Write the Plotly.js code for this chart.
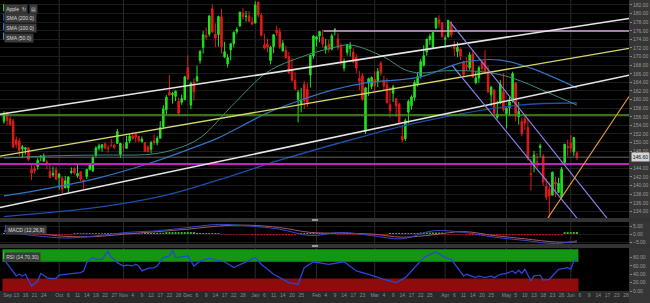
<!DOCTYPE html>
<html><head><meta charset="utf-8">
<script src="https://cdn.plot.ly/plotly-3.0.1.min.js"></script>
<style>html,body{margin:0;padding:0;background:#2a2a2a;overflow:hidden}#chart{width:650px;height:303px}</style>
</head><body><div id="chart"></div>
<script>
// ---------- DATA ----------
const startDate = '2021-09-07';
const holidays = ['2021-11-25','2021-12-24','2022-01-17','2022-02-21','2022-04-15','2022-05-30','2022-06-20'];
const futureDays = 17;

const opens = [
154.97,156.98,155.49,155.00,150.63,150.35,148.56,148.44,148.82,143.80,143.93,144.45,146.65,145.66,145.47,143.25,142.47,143.66,
141.90,141.76,139.49,139.47,143.06,144.03,142.27,143.23,141.24,142.11,143.77,143.45,147.01,148.70,148.81,149.69,148.68,149.33,149.36,149.82,147.22,
148.99,148.66,150.39,151.58,151.89,151.41,150.20,150.02,148.96,148.43,150.37,149.94,151.00,153.71,157.65,161.68,161.12,160.75,159.57,159.37,159.99,
167.48,158.74,164.02,164.29,169.08,172.13,174.91,175.21,181.12,175.25,175.11,179.28,169.93,168.28,171.56,173.04,175.85,177.09,180.16,179.33,179.47,178.09,
177.83,182.63,179.61,172.70,172.89,169.08,172.32,176.12,175.78,171.34,171.51,170.00,166.98,164.42,160.02,158.98,163.50,162.45,165.71,170.16,
174.01,174.75,174.48,171.68,172.86,171.73,176.05,174.14,172.33,167.37,170.97,171.85,171.03,169.82,164.98,165.54,152.58,163.84,163.06,
164.70,164.39,168.47,164.49,163.36,158.82,161.48,160.20,158.93,151.45,150.90,157.05,158.61,160.51,163.51,165.51,167.99,171.06,173.88,172.17,176.69,178.55,177.84,
174.03,174.57,177.50,172.36,171.16,171.78,168.71,168.02,167.39,170.62,163.92,165.02,168.76,168.91,166.46,161.12,162.25,155.91,159.25,161.84,
156.71,158.15,159.67,163.85,156.01,154.93,155.52,153.50,142.77,144.59,145.55,148.86,146.85,139.88,139.09,137.79,140.81,138.43,137.39,145.39,149.07,
149.90,147.83,147.60];
const highs = [
157.26,157.04,156.11,155.48,151.42,151.07,149.44,148.97,148.82,144.84,144.60,146.43,147.08,147.47,145.96,144.75,144.45,144.38,
142.92,142.21,142.24,142.15,144.22,144.18,144.81,143.25,141.40,143.88,144.90,146.84,149.17,149.75,149.64,150.18,149.37,150.84,149.73,153.17,149.94,
149.70,151.57,151.97,152.43,152.20,151.57,151.43,150.13,149.43,150.40,151.88,151.49,155.00,158.67,161.02,165.70,161.80,162.14,160.45,161.19,165.52,
170.30,164.20,164.96,167.88,171.58,175.96,176.75,179.63,182.13,177.74,179.50,181.14,173.47,170.58,173.20,175.86,176.85,180.42,181.33,180.63,180.57,179.23,
182.88,182.94,180.17,175.30,174.14,172.50,175.18,177.18,176.62,173.78,172.54,171.08,169.68,166.33,162.30,162.76,164.39,163.84,170.35,175.00,
174.84,175.88,176.24,174.10,173.95,175.35,176.65,175.48,173.08,169.58,172.95,173.34,171.91,170.54,166.69,166.15,162.85,165.12,165.42,
166.60,167.36,168.91,165.55,165.02,162.88,163.41,160.39,159.28,154.12,155.57,160.00,161.00,164.48,166.35,169.42,172.64,174.14,175.28,175.73,179.01,179.61,178.03,
174.88,178.49,178.30,173.63,173.36,171.78,169.03,169.87,171.04,171.27,166.60,167.82,168.88,171.53,167.87,163.17,162.34,159.79,164.52,166.20,
158.23,160.71,166.48,164.08,159.44,155.83,156.74,155.45,146.20,148.10,147.52,149.77,147.36,141.66,140.70,143.26,141.97,141.79,144.34,149.68,150.66,
151.74,151.27,148.00];
const lows = [
154.39,153.98,153.95,148.70,148.75,146.91,146.37,147.22,145.76,141.27,142.78,143.70,145.64,145.56,143.82,141.69,142.03,141.28,
139.11,138.27,139.36,138.37,142.72,142.56,141.81,141.04,139.20,141.51,143.51,143.16,146.55,148.12,147.87,148.64,147.62,149.01,148.49,149.72,146.41,
147.80,148.65,149.82,150.64,150.06,150.16,150.06,147.85,147.68,147.48,149.43,149.34,150.99,153.05,156.53,161.00,159.06,159.64,156.36,158.79,159.92,
164.53,157.80,159.72,164.28,168.34,170.70,173.92,174.69,175.53,172.21,172.31,170.75,169.69,167.46,169.12,172.15,175.27,177.07,178.53,178.14,178.09,177.26,
177.71,179.12,174.64,171.64,171.03,168.17,170.82,174.82,171.79,171.09,169.41,165.94,164.18,162.30,154.70,157.02,157.82,158.28,162.80,169.51,
172.31,173.33,172.12,170.68,170.95,171.43,174.90,171.55,168.04,166.56,170.25,170.05,168.47,166.19,162.15,159.75,152.00,160.87,162.43,
161.97,162.95,165.55,162.10,159.04,155.80,159.41,155.98,154.50,150.10,150.38,154.46,157.63,159.76,163.01,164.91,167.65,170.21,172.75,172.00,176.34,176.70,174.40,
171.94,174.44,174.42,170.13,169.85,169.20,165.50,166.64,166.77,165.04,163.57,163.91,166.10,165.91,161.50,158.46,156.72,155.38,158.93,157.25,
153.27,156.32,159.26,154.95,154.18,151.49,152.93,145.81,138.80,143.11,144.18,146.68,139.90,136.60,132.61,137.65,137.33,138.34,137.14,145.26,146.84,
147.68,146.86,145.90];
const closes = [
156.69,155.11,154.07,148.97,149.55,148.12,149.03,148.79,146.06,142.94,143.43,145.85,146.83,146.92,145.37,141.91,142.83,141.50,
142.65,139.14,141.11,142.00,143.29,142.90,142.81,141.51,140.91,143.76,144.84,146.55,148.76,149.26,149.48,148.69,148.64,149.32,148.85,152.57,149.80,
148.96,150.02,151.49,150.96,151.28,150.44,150.81,147.92,147.87,149.99,150.00,151.00,153.49,157.87,160.55,161.02,161.41,161.94,156.81,160.24,165.30,
164.77,163.76,161.84,165.32,171.18,175.08,174.56,179.45,175.74,174.33,179.30,172.26,171.14,169.75,172.99,175.64,176.28,180.33,179.29,179.38,178.20,177.57,
182.01,179.70,174.92,172.00,172.17,172.19,175.08,175.53,172.19,173.07,169.80,166.23,164.51,162.41,161.62,159.78,159.69,159.22,170.33,174.78,
174.61,175.84,172.90,172.39,171.66,174.83,176.28,172.12,168.64,168.88,172.79,172.55,168.88,167.30,164.32,160.07,162.74,164.85,165.12,
163.20,166.56,166.23,163.17,159.30,157.44,162.95,158.52,154.73,150.62,155.09,159.59,160.62,163.98,165.38,168.82,170.21,174.07,174.72,175.60,178.96,177.77,174.61,
174.31,178.44,175.06,171.83,172.14,170.09,165.75,167.66,170.40,165.29,165.07,167.40,167.23,166.42,161.79,162.88,156.80,156.57,163.64,157.65,
157.96,159.48,166.02,156.77,157.28,152.06,154.51,146.50,142.56,147.11,145.54,149.24,140.82,137.35,137.59,143.11,140.36,140.52,143.78,149.64,148.84,
148.71,151.21,146.60];

// moving averages (day index, price)
const sma200X = [0,31,53,70,90,113,136,168,187];
const sma200Y = [132.8,135.0,137.8,141.3,145.9,150.6,154.8,158.7,159.2];
const sma100X = [0,15,31,48,64,70,86,97,107,118,136,150,162,172,187];
const sma100Y = [137.6,139.4,141.8,145.3,149.4,151.1,156.9,159.9,162.2,163.9,165.3,168.7,169.2,167.3,162.7];
const sma50X = [0,15,31,48,56,64,75,86,97,107,113,124,131,136,144,157,166,177,187];
const sma50Y = [146.4,146.9,147.1,147.3,148.5,151.1,159.0,166.4,169.9,172.0,172.7,169.9,166.9,166.2,166.7,166.4,165.0,161.8,158.7];

// drawn lines (day index, price)
const whiteUpX = [-1.3,204], whiteUpY = [156.57,178.86];
const yellowX = [-1.3,204], yellowY = [146.87,171.90];
const whiteLowX = [-1.3,204], whiteLowY = [134.90,165.65];
const pinkX = [104.3,204], pinkY = [175.95,175.95];
const greenX = [-1.3,204], greenY = [156.4,156.4];
const magentaX = [-1.3,204], magentaY = [145.0,145.0];
const purpleAX = [145.6,196.8], purpleAY = [178.04,132.45];
const purpleBX = [146.2,187.0], purpleBY = [168.04,132.45];
const orangeX = [177.5,204], orangeY = [132.45,160.71];

// MACD (12,26,9)
const macdX =   [0,10,20,30,40,50,60,70,80,90,100,110,120,130,140,150,160,170,180,187];
const macdV =   [1.5,-1.0,-2.5,-1.2,1.0,2.0,4.0,6.0,5.0,3.0,-1.0,1.0,-1.0,-3.0,2.0,1.0,-2.0,-4.0,-6.0,-4.2];
const signalV = [2.0,0.5,-1.5,-1.6,0.0,1.5,3.0,5.0,5.5,4.0,1.0,0.5,0.0,-2.0,-0.5,1.5,-1.0,-3.0,-5.0,-5.0];
const histRuns = [[0,9,0.6],[10,22,-0.6],[23,45,0.5],[46,52,0.8],[53,62,1.2],[63,70,0.6],[71,80,-0.4],[81,95,-0.8],[96,108,0.6],[109,125,-0.5],[126,135,0.6],[136,143,0.9],[144,150,-0.4],[151,182,-0.8],[183,187,1.2]];

// RSI (14,70,30)
const rsiX = [0,2,4,5,6,7,9,11,12,14,15,17,18,20,22,23,25,26,27,29,30,32,34,35,36,37,39,40,42,43,44,45,47,49,50,52,54,55,56,58,60,62,63,64,
67,72,75,79,82,84,88,93,96,98,101,106,111,115,119,124,128,131,134,137,141,144,
146,148,150,151,154,155,157,159,160,162,164,166,167,168,169,170,172,173,175,176,178,179,181,184,185,186,187];
const rsiV = [76,56,36,40,36,40,12,24,42,32,30,30,38,40,42,42,44,48,68,80,76,76,96,80,76,68,60,62,60,64,60,48,54,56,60,80,84,98,80,82,84,60,66,72,
78,70,56,70,80,64,40,20,16,56,70,64,70,48,40,28,20,32,56,80,94,80,
76,56,36,40,32,36,32,36,32,40,42,48,42,50,42,52,24,36,38,26,28,36,52,56,52,72,76];

// ---------- BUILD ----------
const N = closes.length;
const MONTHS = ['Jan','Feb','Mar','Apr','May','Jun','Jul','Aug','Sep','Oct','Nov','Dec'];
function tradingDates(start, count, hol){
  const out = []; const d = new Date(start + 'T00:00:00Z');
  while(out.length < count){
    const dow = d.getUTCDay(); const iso = d.toISOString().slice(0,10);
    if(dow !== 0 && dow !== 6 && hol.indexOf(iso) < 0) out.push(new Date(d));
    d.setUTCDate(d.getUTCDate()+1);
  }
  return out;
}
const dates = tradingDates(startDate, N + futureDays, holidays);
const idx = dates.map((_, i) => i);
const candleX = idx.slice(0, N);

const tickVals = [], tickText = [], monthStarts = [];
let lastLab = -10;
for(let i = 0; i < dates.length; i++){
  const m = dates[i].getUTCMonth();
  const newMonth = i === 0 || m !== dates[i-1].getUTCMonth();
  if(newMonth){ tickVals.push(i === 0 ? 1.2 : i); tickText.push(MONTHS[m]); lastLab = i === 0 ? 1 : i; if(i>0) monthStarts.push(i); continue; }
  const nextNew = (i+1 < dates.length && dates[i+1].getUTCMonth() !== m) || (i+2 < dates.length && dates[i+2].getUTCMonth() !== m);
  if(i - lastLab >= 3 && !nextNew && i < dates.length - 1){ tickVals.push(i); tickText.push(String(dates[i].getUTCDate())); lastLab = i; }
}

const histX = [], histY = [], histC = [];
histRuns.forEach(r => { for(let i=r[0]; i<=r[1]; i++){ histX.push(i); histY.push(r[2]); histC.push(r[2] >= 0 ? '#22cc22' : '#d41414'); } });

const lastClose = closes[N-1];
// price ticks every 2; the one hidden under the last-price tag is left out
const priceTicks = [];
for(let v = 134; v <= 182; v += 2) if(Math.abs(v - lastClose) >= 1.2) priceTicks.push(v);

function line(x, y, color, w, yaxis){ return {type:'scatter', mode:'lines', x, y, line:{color, width:w}, yaxis: yaxis||'y', xaxis:'x', hoverinfo:'skip', showlegend:false}; }

const traces = [
  line(sma200X, sma200Y, '#1d4fa8', 1.3),
  line(sma100X, sma100Y, '#2f74c4', 1.2),
  line(sma50X, sma50Y, '#3a8c7c', 1.0),
  line(greenX, greenY, '#4c9a22', 1.6),
  line(magentaX, magentaY, '#c81ec8', 2),
  line([-1.3,204], [lastClose,lastClose], '#7a7a7a', 0.8),
  line(pinkX, pinkY, '#d8a6d8', 1.6),
  line(whiteLowX, whiteLowY, '#e6e6e6', 1.5),
  line(yellowX, yellowY, '#d6d66e', 1.3),
  line(whiteUpX, whiteUpY, '#e6e6e6', 1.5),
  line(purpleAX, purpleAY, '#8c84f0', 1.2),
  line(purpleBX, purpleBY, '#8c84f0', 1.2),
  line(orangeX, orangeY, '#e6963c', 1.2),
  {type:'candlestick', x:candleX, open:opens, high:highs, low:lows, close:closes, xaxis:'x', yaxis:'y',
   increasing:{line:{color:'#22e022', width:1}, fillcolor:'#22e022'},
   decreasing:{line:{color:'#e21a1a', width:1}, fillcolor:'#e21a1a'},
   whiskerwidth:0, hoverinfo:'skip', showlegend:false},
  {type:'bar', x:histX, y:histY, marker:{color:histC, line:{width:0}}, width:0.6, xaxis:'x', yaxis:'y2', hoverinfo:'skip', showlegend:false},
  {type:'scatter', mode:'lines', x:macdX, y:signalV, line:{color:'#a05a6a', width:1, shape:'spline'}, xaxis:'x', yaxis:'y2', hoverinfo:'skip', showlegend:false},
  {type:'scatter', mode:'lines', x:macdX, y:macdV, line:{color:'#3848c8', width:1, shape:'spline'}, xaxis:'x', yaxis:'y2', hoverinfo:'skip', showlegend:false},
  {type:'scatter', mode:'lines', x:rsiX, y:rsiV, line:{color:'#2a46d8', width:1.3}, xaxis:'x', yaxis:'y3', hoverinfo:'skip', showlegend:false}
];
traces[0].line.shape = traces[1].line.shape = traces[2].line.shape = 'spline';

const H = 291, W = 629;
const py = p => (H - p) / H, px = p => p / W;
const shapes = [];
shapes.push({type:'rect', xref:'paper', yref:'paper', x0:1, x1:650/W, y0:-12/H, y1:1, fillcolor:'#363636', line:{width:0}, layer:'below'});
monthStarts.forEach(i => ['y','y2','y3'].forEach(ya => shapes.push({type:'line', xref:'x', yref:ya+' domain', x0:i, x1:i, y0:0, y1:1, line:{color:'#2a2a2a', width:1}, layer:'below'})));
shapes.push({type:'rect', xref:'x', yref:'y3', x0:candleX[0]-0.5, x1:candleX[N-1]+0.5, y0:70, y1:100, fillcolor:'#149614', line:{width:0}, layer:'below'});
shapes.push({type:'rect', xref:'x', yref:'y3', x0:candleX[0]-0.5, x1:candleX[N-1]+0.5, y0:0, y1:30, fillcolor:'#8e0c0c', line:{width:0}, layer:'below'});
[[218,222],[244,248]].forEach(s => {
  shapes.push({type:'rect', xref:'paper', yref:'paper', x0:0, x1:650/W, y0:py(s[1]), y1:py(s[0]), fillcolor:'#333333', line:{width:0}, layer:'above'});
  shapes.push({type:'rect', xref:'paper', yref:'paper', x0:px(312), x1:px(318), y0:py(s[0]+2.6), y1:py(s[0]+1.4), fillcolor:'#dddddd', line:{width:0}, layer:'above'});
});
const labels = [
  {text:'Apple', y:4, c:'#2fbf2f'},
  {text:'SMA (200.0)', y:13.5, c:'#1d4fa8'},
  {text:'SMA (100.0)', y:23, c:'#2f74c4'},
  {text:'SMA (50.0)', y:32.5, c:'#3a8c9c'},
  {text:'MACD (12,26,9)', y:225, c:'#3050c0', x:5},
  {text:'RSI (14,70,30)', y:251.5, c:'#40c040'}
];
const annotations = [];
labels.forEach(l => {
  const x0 = l.x || 3;
  annotations.push({xref:'paper', yref:'paper', x:px(x0+1.2), y:py(l.y), xanchor:'left', yanchor:'top', text:l.text, showarrow:false,
    font:{family:'Liberation Sans, Arial, sans-serif', size:5, color:'#d8d8d8'}, bgcolor:'#3a3a3a', borderpad:1.2});
  shapes.push({type:'rect', xref:'paper', yref:'paper', x0:px(x0), x1:px(x0+1.3), y0:py(l.y+7.2), y1:py(l.y), fillcolor:l.c, line:{width:0}, layer:'above'});
});
annotations.push({xref:'paper', yref:'paper', x:px(20), y:py(4), xanchor:'left', yanchor:'top', text:'↻', showarrow:false, font:{family:'DejaVu Sans', size:5, color:'#cccccc'}, bgcolor:'#3a3a3a', borderpad:1});
annotations.push({xref:'paper', yref:'paper', x:px(28.5), y:py(4), xanchor:'left', yanchor:'top', text:'▤', showarrow:false, font:{family:'DejaVu Sans', size:5, color:'#cccccc'}, bgcolor:'#3a3a3a', borderpad:1});
annotations.push({xref:'paper', yref:'y', x:1.003, y:lastClose, xanchor:'left', yanchor:'middle', text:lastClose.toFixed(2), showarrow:false,
  font:{family:'Liberation Sans, Arial, sans-serif', size:5, color:'#111'}, bgcolor:'#d4d4d4', borderpad:0.8});

const axFont = {family:'Liberation Sans, Arial, sans-serif', size:5, color:'#9a9a9a'};
const yCommon = {side:'right', anchor:'x', showgrid:true, gridcolor:'#1c1c1c', gridwidth:1, zeroline:false, showline:false,
  ticks:'outside', ticklen:2, tickcolor:'#8a8a8a', tickfont:axFont, tickformat:'.2f', fixedrange:true};

const layout = {
  width:650, height:303, margin:{l:0, r:21, t:0, b:12},
  paper_bgcolor:'#2a2a2a', plot_bgcolor:'#000000', showlegend:false, hovermode:false,
  xaxis:{domain:[0,1], range:[-1.3,204], anchor:'y3', tickvals:tickVals, ticktext:tickText, tickangle:0,
    tickfont:{family:'Liberation Sans, Arial, sans-serif', size:5, color:'#8a8a8a'},
    showgrid:false, zeroline:false, showline:false, ticks:'', rangeslider:{visible:false}, fixedrange:true},
  yaxis: Object.assign({}, yCommon, {domain:[73/H,1], range:[132.46,183.16], tickvals:priceTicks}),
  yaxis2: Object.assign({}, yCommon, {domain:[47/H,69/H], range:[-6.25,7.5], tickvals:[-5,0,5]}),
  yaxis3: Object.assign({}, yCommon, {domain:[0,43/H], range:[0,103], tickvals:[0,20,40,60,80], showgrid:false}),
  shapes, annotations
};
Plotly.newPlot('chart', traces, layout, {staticPlot:true, displayModeBar:false});
</script></body></html>
